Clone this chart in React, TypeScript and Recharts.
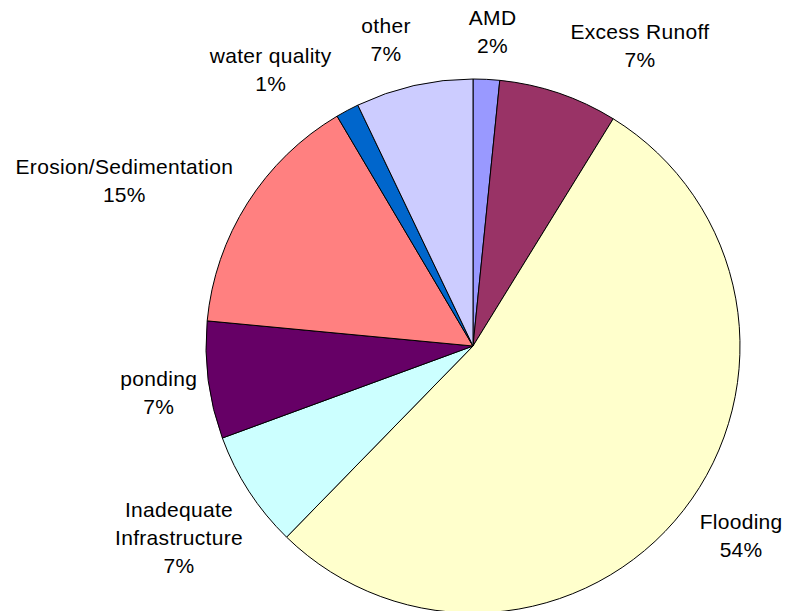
import { PieChart, Pie, Cell } from "recharts";

// problem categories, clockwise from 12 o'clock
const categories = [
  "AMD",
  "Excess Runoff",
  "Flooding",
  "Inadequate Infrastructure",
  "ponding",
  "Erosion/Sedimentation",
  "water quality",
  "other",
];
// share of reported problems, %
const shares = [1.6, 7.2, 53.5, 7.1, 7.1, 15.0, 1.4, 7.1];
const colors = ["#9999FF", "#993366", "#FFFFCC", "#CCFFFF", "#660066", "#FF8080", "#0066CC", "#CCCCFF"];

// long names get wrapped onto two lines
const labelLines: Record<string, string[]> = {
  "Inadequate Infrastructure": ["Inadequate", "Infrastructure"],
};

// small shifts from the default outside-label spot so the texts don't crowd each other
const labelNudge: Record<string, [number, number]> = {
  AMD: [3, 15],
  "Excess Runoff": [61, 12],
  Flooding: [8, -14],
  "Inadequate Infrastructure": [-17, 12],
  ponding: [13, 4],
  "Erosion/Sedimentation": [-70, 11],
  "water quality": [-47, 15],
  other: [-14, 15],
};

const data = categories.map((name, i) => ({ name, value: shares[i] }));

const RADIAN = Math.PI / 180;
const FONT = 21;
const LINE_H = 28;

const renderLabel = (props: any) => {
  const { cx, cy, midAngle, outerRadius, name, percent } = props;
  const r = outerRadius + 63;
  const [nx, ny] = labelNudge[name] ?? [0, 0];
  const x = cx + r * Math.cos(-midAngle * RADIAN) + nx;
  const y = cy + r * Math.sin(-midAngle * RADIAN) + ny;
  const lines = [...(labelLines[name] ?? [name]), `${Math.round(percent * 100)}%`];
  const firstBaseline = y - ((lines.length - 1) * LINE_H) / 2 + FONT * 0.36;
  return (
    <text
      x={x}
      y={firstBaseline}
      textAnchor="middle"
      fill="#000"
      fontSize={FONT}
      letterSpacing={0.3}
      fontFamily="'Liberation Sans', Arial, sans-serif"
    >
      {lines.map((t, i) => (
        <tspan key={i} x={x} dy={i === 0 ? 0 : LINE_H}>
          {t}
        </tspan>
      ))}
    </text>
  );
};

export default function App() {
  return (
    <div style={{ position: "absolute", left: 0, top: 0, width: 786, height: 611, background: "#fff" }}>
      <PieChart width={786} height={611} margin={{ top: 0, right: 0, bottom: 0, left: 0 }}>
        <Pie
          data={data}
          dataKey="value"
          nameKey="name"
          cx={473}
          cy={346}
          outerRadius={267}
          startAngle={90}
          endAngle={-270}
          stroke="#000"
          strokeWidth={1}
          label={renderLabel}
          labelLine={false}
          isAnimationActive={false}
        >
          {data.map((d, i) => (
            <Cell key={d.name} fill={colors[i]} />
          ))}
        </Pie>
      </PieChart>
    </div>
  );
}
